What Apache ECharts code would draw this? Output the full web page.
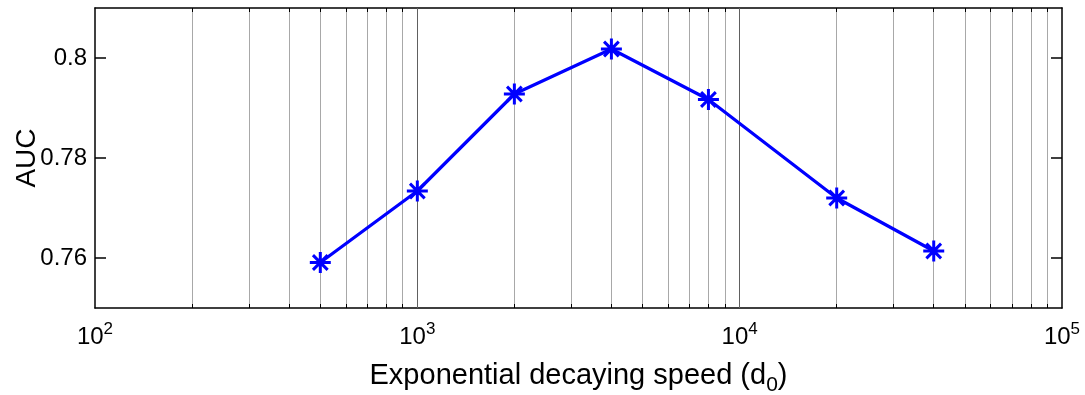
<!DOCTYPE html>
<html>
<head>
<meta charset="utf-8">
<script src="https://cdn.jsdelivr.net/npm/echarts@6/dist/echarts.min.js"></script>
<style>
html,body{margin:0;padding:0;background:#fff;}
#chart{width:1085px;height:395px;}
</style>
</head>
<body>
<div id="chart"></div>
<script>
// Data
const speeds = [500, 1000, 2000, 4000, 8000, 20000, 40000];
const aucValues = [0.7591, 0.7734, 0.7928, 0.8018, 0.7917, 0.7720, 0.7614];
const xGridValues = [200,300,400,500,600,700,800,900,1000,2000,3000,4000,5000,6000,7000,8000,9000,10000,20000,30000,40000,50000,60000,70000,80000,90000];
const xMajorGrid = [1000, 10000];
const yTickValues = [0.76, 0.78, 0.8];
const xLabelText = 'Exponential decaying speed (d{sub|0})';
const yLabelText = 'AUC';

const FONT = '"Liberation Sans", Arial, Helvetica, sans-serif';
const chart = echarts.init(document.getElementById('chart'), null, {renderer: 'canvas'});

const star = 'path://M0,-10L0,10M-10,0L10,0M-7,-7L7,7M-7,7L7,-7';

const option = {
  animation: false,
  backgroundColor: '#fff',
  grid: {left: 95, right: 23, top: 8, bottom: 87, show: false, containLabel: false, outerBoundsMode: 'none'},
  xAxis: [{
    type: 'log', logBase: 10, min: 100, max: 100000, position: 'bottom',
    axisLine: {show: true, onZero: false, lineStyle: {color: '#000', width: 1.5}},
    axisTick: {show: true, inside: true, length: 4, customValues: xGridValues, lineStyle: {color: '#000', width: 1}},
    splitLine: {show: true, lineStyle: {color: '#a8a8a8', width: 1}},
    minorTick: {show: false}, minorSplitLine: {show: false},
    axisLabel: {
      margin: 13,
      formatter: function (v) { return '{b|10}{sup|' + Math.round(Math.log10(v)) + '}'; },
      rich: {
        b: {fontFamily: FONT, fontSize: 24, color: '#000'},
        sup: {fontFamily: FONT, fontSize: 17, color: '#000', padding: [0, 0, 15, 0]}
      }
    },
    name: xLabelText, nameLocation: 'middle', nameGap: 47, nameMoveOverlap: false,
    nameTextStyle: {
      fontFamily: FONT, fontSize: 29, color: '#000',
      rich: {sub: {fontFamily: FONT, fontSize: 21, color: '#000', padding: [20, 0, 0, 0]}}
    }
  }, {
    type: 'log', logBase: 10, min: 100, max: 100000, position: 'top',
    axisLine: {show: true, onZero: false, lineStyle: {color: '#000', width: 1.5}},
    axisTick: {show: true, inside: true, length: 4, customValues: xGridValues, lineStyle: {color: '#000', width: 1}},
    splitLine: {show: false}, axisLabel: {show: false}
  }],
  yAxis: [{
    type: 'value', min: 0.75, max: 0.81, interval: 0.01, position: 'left',
    axisLine: {show: true, onZero: false, lineStyle: {color: '#000', width: 1.5}},
    axisTick: {show: true, inside: true, length: 11, customValues: yTickValues, lineStyle: {color: '#000', width: 1.5}},
    splitLine: {show: false},
    axisLabel: {customValues: yTickValues, margin: 8, fontFamily: FONT, fontSize: 24, color: '#000',
      formatter: function (v) { return String(Math.round(v * 100) / 100); }},
    name: yLabelText, nameLocation: 'middle', nameGap: 54, nameRotate: 90, nameMoveOverlap: false,
    nameTextStyle: {fontFamily: FONT, fontSize: 28, color: '#000'}
  }, {
    type: 'value', min: 0.75, max: 0.81, interval: 0.01, position: 'right',
    axisLine: {show: true, onZero: false, lineStyle: {color: '#000', width: 1.5}},
    axisTick: {show: true, inside: true, length: 11, customValues: yTickValues, lineStyle: {color: '#000', width: 1.5}},
    splitLine: {show: false}, axisLabel: {show: false}
  }],
  series: [{
    type: 'line',
    xAxisIndex: 0, yAxisIndex: 0,
    data: speeds.map((s, i) => [s, aucValues[i]]),
    lineStyle: {color: '#0000ff', width: 3.2},
    symbol: star, symbolSize: 21, showSymbol: true,
    itemStyle: {color: '#0000ff', borderColor: '#0000ff', borderWidth: 3},
    markLine: {
      silent: true, symbol: 'none', label: {show: false},
      lineStyle: {color: '#606060', width: 1, type: 'solid'},
      data: xMajorGrid.map(v => ({xAxis: v})),
      z: 1
    },
    z: 5
  }]
};
chart.setOption(option);
</script>
</body>
</html>
